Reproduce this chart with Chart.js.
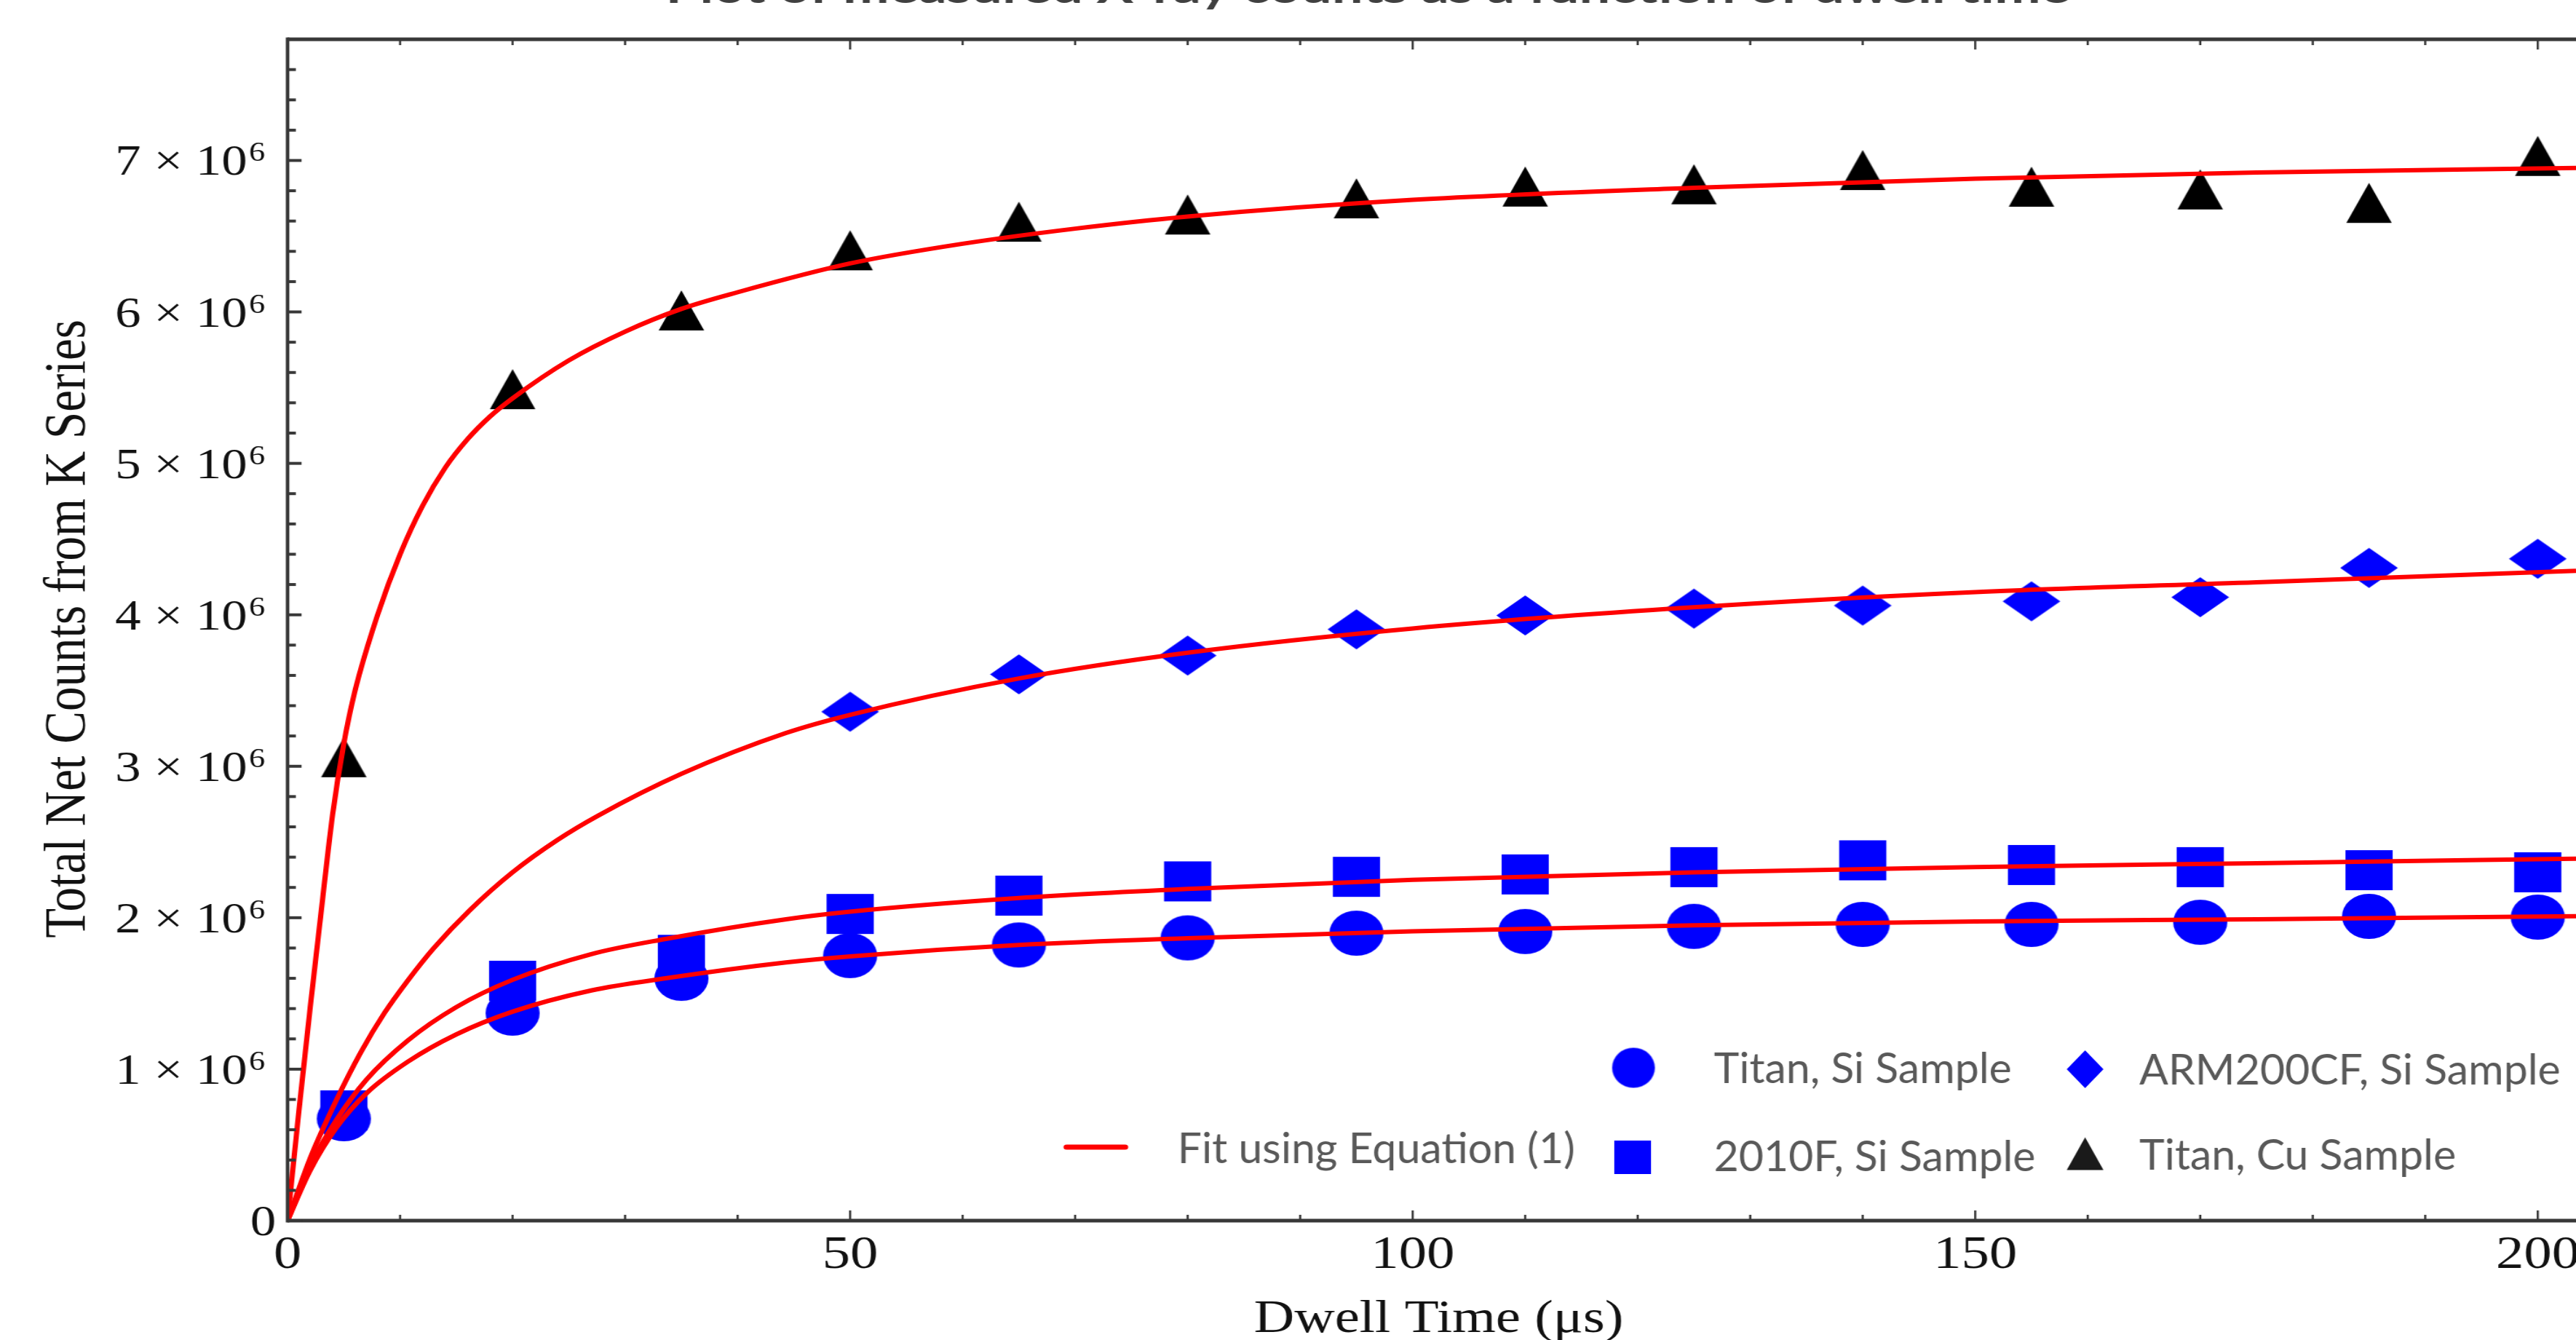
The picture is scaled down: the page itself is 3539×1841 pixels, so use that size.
<!DOCTYPE html>
<html>
<head>
<meta charset="utf-8">
<script src="https://cdn.jsdelivr.net/npm/chart.js@4.4.0/dist/chart.umd.min.js"></script>
<style>
  html, body { margin: 0; padding: 0; background: #fff; overflow: hidden; }
  /* the reference is stretched sideways by about 1.2, so the canvas is drawn narrow and widened here */
  #plot { display: block; width: 3539px !important; height: 1841px !important; }
</style>
</head>
<body>
<canvas id="plot" width="2949" height="1841" style="width:3539px;height:1841px"></canvas>
<script>
// measured points, counts in units of 10^6
const dwellTimes = [5, 20, 35, 50, 65, 80, 95, 110, 125, 140, 155, 170, 185, 200];
const titanSi   = [0.673, 1.37, 1.60, 1.75, 1.82, 1.867, 1.898, 1.909, 1.943, 1.956, 1.956, 1.970, 2.009, 2.004];
const f2010Si   = [0.728, 1.584, 1.755, 2.025, 2.146, 2.240, 2.270, 2.286, 2.334, 2.379, 2.348, 2.334, 2.314, 2.300];
const titanCu   = [3.06, 5.49, 6.01, 6.407, 6.596, 6.643, 6.750, 6.828, 6.843, 6.937, 6.827, 6.809, 6.720, 7.030];
const armTimes  = [50, 65, 80, 95, 110, 125, 140, 155, 170, 185, 200];
const arm200Si  = [3.360, 3.607, 3.731, 3.904, 3.996, 4.041, 4.061, 4.089, 4.116, 4.310, 4.370];

// fit curves
const fitCuT    = [0, 1, 2, 3, 4, 5, 6, 8, 10, 12, 14, 16, 18, 20, 25, 30, 35, 40, 50, 60, 70, 80, 100, 125, 150, 175, 203.4];
const fitCu     = [0, 0.72, 1.40, 2.05, 2.68, 3.15, 3.50, 4.00, 4.40, 4.72, 4.97, 5.16, 5.31, 5.43, 5.68, 5.87, 6.02, 6.13, 6.32, 6.45, 6.55, 6.63, 6.74, 6.82, 6.88, 6.92, 6.95];
const fitArmT   = [0, 2, 4.3, 6.5, 8.6, 10.7, 13, 16.2, 20, 24, 27.5, 35, 44.3, 50, 65, 80, 100, 125, 150, 175, 203.4];
const fitArm    = [0, 0.41, 0.79, 1.11, 1.37, 1.587, 1.80, 2.05, 2.30, 2.514, 2.67, 2.95, 3.22, 3.34, 3.58, 3.75, 3.91, 4.05, 4.15, 4.215, 4.29];
const fitSiT    = [0, 2, 4.3, 7, 10.7, 15, 20, 27, 33.6, 44.3, 50, 65, 80, 100, 125, 150, 175, 203.4];
const fit2010   = [0, 0.36, 0.66, 0.93, 1.19, 1.41, 1.59, 1.76, 1.86, 1.99, 2.04, 2.13, 2.19, 2.25, 2.30, 2.335, 2.36, 2.39];
const fitTitan  = [0, 0.33, 0.61, 0.84, 1.05, 1.23, 1.38, 1.52, 1.60, 1.705, 1.745, 1.82, 1.865, 1.91, 1.95, 1.975, 1.99, 2.01];

const xTickStep = 50, xMinorStep = 10;
const yTickStep = 1, yMinorStep = 0.2;
const xMax = 203.4, yMax = 7.8;

const titleText = 'Plot of measured X-ray counts as a function of dwell time';
const xTitle = 'Dwell Time (\u03bcs)';
const yTitle = 'Total Net Counts from K Series';
const legendItems = {
  titanSi: 'Titan, Si Sample', arm: 'ARM200CF, Si Sample', fit: 'Fit using Equation (1)',
  f2010: '2010F, Si Sample', titanCu: 'Titan, Cu Sample'
};

const BLUE = '#0000ff', RED = '#ff0000', AXIS = '#383838';
const SANS = "'Liberation Sans Narrow', Lato, sans-serif";
const SERIF = "'Liberation Serif', 'DejaVu Serif', serif";

function makeMarker(shape, w, h, color) {
  const c = document.createElement('canvas');
  c.width = Math.ceil(w) + 2; c.height = Math.ceil(h) + 2;
  const g = c.getContext('2d');
  const cx = c.width / 2, cy = c.height / 2;
  g.fillStyle = color;
  g.beginPath();
  if (shape === 'circle') g.ellipse(cx, cy, w / 2, h / 2, 0, 0, Math.PI * 2);
  else if (shape === 'square') g.rect(cx - w / 2, cy - h / 2, w, h);
  else if (shape === 'triangle') { g.moveTo(cx, cy - h / 2); g.lineTo(cx + w / 2, cy + h / 2); g.lineTo(cx - w / 2, cy + h / 2); g.closePath(); }
  else { g.moveTo(cx, cy - h / 2); g.lineTo(cx + w / 2, cy); g.lineTo(cx, cy + h / 2); g.lineTo(cx - w / 2, cy); g.closePath(); }
  g.fill();
  return c;
}

const mk = {
  circle: makeMarker('circle', 62, 62, BLUE),
  square: makeMarker('square', 54, 55, BLUE),
  diamond: makeMarker('diamond', 66, 55, BLUE),
  triangle: makeMarker('triangle', 52, 55, '#000')
};
const lg = {
  circle: makeMarker('circle', 49, 55, BLUE),
  square: makeMarker('square', 42, 46, BLUE),
  diamond: makeMarker('diamond', 42, 52, BLUE),
  triangle: makeMarker('triangle', 42, 45, '#1a1a1a')
};

const pts = (xs, ys) => xs.map((x, i) => ({ x, y: ys[i] }));

function fitSet(xs, ys) {
  return { type: 'scatter', data: pts(xs, ys), showLine: true, borderColor: RED, borderWidth: 6,
    pointRadius: 0, cubicInterpolationMode: 'monotone', fill: false, order: 0 };
}
function markSet(xs, ys, img) {
  return { type: 'scatter', data: pts(xs, ys), pointStyle: img, pointRadius: 30, borderWidth: 0, order: 1 };
}

function line(ctx, x1, y1, x2, y2) { ctx.beginPath(); ctx.moveTo(x1, y1); ctx.lineTo(x2, y2); ctx.stroke(); }

const framePlugin = {
  id: 'frame',
  afterDraw(chart) {
    const { ctx, chartArea: a, scales: { x, y } } = chart;
    ctx.save();
    ctx.strokeStyle = AXIS;
    ctx.lineCap = 'butt';

    // frame: left, bottom, top (right side is cropped off)
    ctx.lineWidth = 5;
    line(ctx, a.left, a.top, a.right, a.top);
    line(ctx, a.left, a.bottom, a.right, a.bottom);
    ctx.lineWidth = 4;
    line(ctx, a.left, a.top - 2.5, a.left, a.bottom + 2.5);

    // x ticks, pointing in, top and bottom
    const xMajor = x.ticks.map(t => t.value);
    ctx.lineWidth = 2.5;
    for (let v = 0; v <= x.max + 1e-6; v += xMinorStep) {
      const px = x.getPixelForValue(v);
      const len = xMajor.some(m => Math.abs(m - v) < 1e-6) ? 14 : 8;
      line(ctx, px, a.bottom, px, a.bottom - len);
      line(ctx, px, a.top, px, a.top + len);
    }
    // y ticks
    const yMajor = y.ticks.map(t => t.value);
    ctx.lineWidth = 4;
    for (let i = 0; i * yMinorStep <= y.max + 1e-6; i++) {
      const v = i * yMinorStep;
      const py = y.getPixelForValue(v);
      const len = yMajor.some(m => Math.abs(m - v) < 1e-6) ? 16 : 9.5;
      line(ctx, a.left, py, a.left + len, py);
    }

    // tick labels
    ctx.fillStyle = '#111';
    ctx.textBaseline = 'alphabetic';
    ctx.font = '64px ' + SERIF;
    ctx.textAlign = 'center';
    x.ticks.forEach(t => ctx.fillText(String(t.value), x.getPixelForValue(t.value), 1742));

    y.ticks.forEach(t => {
      const py = y.getPixelForValue(t.value);
      if (t.value === 0) {
        ctx.font = '59px ' + SERIF; ctx.textAlign = 'right';
        ctx.fillText('0', 316, py + 20);
        return;
      }
      ctx.font = '59px ' + SERIF; ctx.textAlign = 'right';
      ctx.fillText(t.value + ' \u00d7 10', 283, py + 20);
      ctx.font = '37px ' + SERIF; ctx.textAlign = 'left';
      ctx.fillText('6', 285, py + 1);
    });

    // axis titles
    ctx.font = '64px ' + SERIF; ctx.textAlign = 'center';
    ctx.fillText(xTitle, 1647, 1830);
    ctx.save();
    ctx.translate(97, 864); ctx.rotate(-Math.PI / 2);
    ctx.font = '67px ' + SERIF;
    ctx.fillText(yTitle, 0, 0);
    ctx.restore();

    // title, mostly cut off by the top edge
    ctx.font = 'bold 56px ' + SANS;
    ctx.fillStyle = '#404040';
    const tw = ctx.measureText(titleText).width;
    ctx.save(); ctx.translate(1566, 4); ctx.scale(1608 / tw, 1); ctx.textAlign = 'center';
    ctx.fillText(titleText, 0, 0); ctx.restore();

    // legend
    const drawImg = (img, cx, cy) => ctx.drawImage(img, cx - img.width / 2, cy - img.height / 2);
    drawImg(lg.circle, 1870, 1467);
    drawImg(lg.diamond, 2387, 1469);
    drawImg(lg.square, 1869, 1590);
    drawImg(lg.triangle, 2387, 1585);
    ctx.strokeStyle = RED; ctx.lineWidth = 7; ctx.lineCap = 'round';
    line(ctx, 1221, 1576, 1288, 1576);

    ctx.font = '58px ' + SANS;
    ctx.fillStyle = '#595959';
    ctx.textAlign = 'left';
    const sq = 341 / ctx.measureText(legendItems.titanSi).width;
    const lt = (s, x0, y0) => { ctx.save(); ctx.translate(x0, y0); ctx.scale(sq, 1); ctx.fillText(s, 0, 0); ctx.restore(); };
    lt(legendItems.titanSi, 1962, 1488);
    lt(legendItems.arm, 2449, 1490);
    lt(legendItems.fit, 1348, 1598);
    lt(legendItems.f2010, 1962, 1609);
    lt(legendItems.titanCu, 2449, 1607);

    ctx.restore();
  }
};

new Chart(document.getElementById('plot').getContext('2d'), {
  type: 'scatter',
  data: {
    datasets: [
      fitSet(fitCuT, fitCu),
      fitSet(fitArmT, fitArm),
      fitSet(fitSiT, fit2010),
      fitSet(fitSiT, fitTitan),
      markSet(dwellTimes, f2010Si, mk.square),
      markSet(dwellTimes, titanSi, mk.circle),
      markSet(armTimes, arm200Si, mk.diamond),
      markSet(dwellTimes, titanCu, mk.triangle)
    ]
  },
  options: {
    responsive: false,
    animation: false,
    devicePixelRatio: 1,
    layout: { autoPadding: false, padding: { top: 54, left: 0, right: 0, bottom: 0 } },
    plugins: { legend: { display: false }, tooltip: { enabled: false }, title: { display: false } },
    scales: {
      x: {
        type: 'linear', min: 0, max: xMax,
        ticks: { display: false, stepSize: xTickStep, includeBounds: false },
        grid: { display: false, drawTicks: false },
        border: { display: false },
        afterFit(s) { s.height = 164; }
      },
      y: {
        type: 'linear', min: 0, max: yMax,
        ticks: { display: false, stepSize: yTickStep, includeBounds: false },
        grid: { display: false, drawTicks: false },
        border: { display: false },
        afterFit(s) { s.width = 329.2; }
      }
    }
  },
  plugins: [framePlugin]
});
</script>
</body>
</html>
